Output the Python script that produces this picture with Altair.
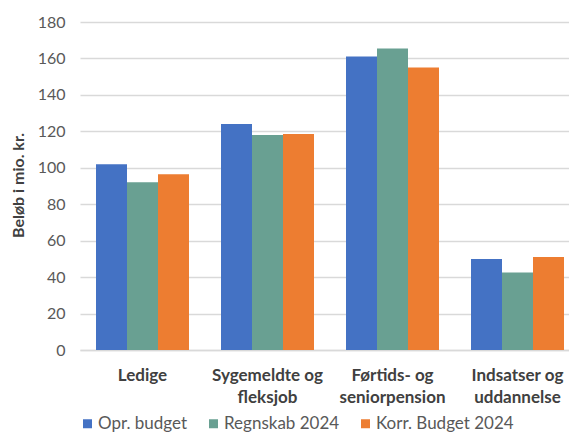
import altair as alt
import pandas as pd

categories = ["Ledige", "Sygemeldte og fleksjob", "Førtids- og seniorpension", "Indsatser og uddannelse"]
series = ["Opr. budget", "Regnskab 2024", "Korr. Budget 2024"]
opr_budget = [102, 124, 161, 50]
regnskab_2024 = [92, 118, 165.5, 42.5]
korr_budget_2024 = [96.5, 118.5, 155, 51]
colors = ["#4472C4", "#69A092", "#ED7D31"]
y_ticks = [0, 20, 40, 60, 80, 100, 120, 140, 160, 180]

rows = []
for s, vals in zip(series, [opr_budget, regnskab_2024, korr_budget_2024]):
    for c, v in zip(categories, vals):
        rows.append({"Kategori": c, "Serie": s, "Beløb": v})
df = pd.DataFrame(rows)

FONT = "Lato"

chart = alt.Chart(df).mark_bar().encode(
    x=alt.X("Kategori:N", sort=categories,
            scale=alt.Scale(paddingInner=0.256, paddingOuter=0.128, range=[0, 500]),
            axis=alt.Axis(title=None, labelAngle=0, labelFont=FONT, labelFontSize=17,
                          labelFontWeight="bold", labelColor="#404040", labelPadding=17,
                          labelLineHeight=22, ticks=False, domainColor="#D9D9D9",
                          domainWidth=1.5,
                          labelExpr="split(replace(datum.label, ' og ', ' og|'), '|')")),
    xOffset=alt.XOffset("Serie:N", sort=series),
    y=alt.Y("Beløb:Q", scale=alt.Scale(domain=[0, 180], nice=False),
            axis=alt.Axis(title="Beløb i mio. kr.", values=y_ticks, labelFont=FONT,
                          labelFontSize=16, labelColor="#595959", labelPadding=15,
                          ticks=False, domain=False, gridColor="#D9D9D9", gridWidth=1.5,
                          titleFont=FONT, titleFontSize=16, titleFontWeight="bold",
                          titleColor="#404040", titleAngle=-90, titleX=-62, titleY=163,
                          titleAlign="center", titleBaseline="middle")),
    color=alt.Color("Serie:N", sort=series,
                    scale=alt.Scale(domain=series, range=colors),
                    legend=alt.Legend(title=None, orient="none", legendX=-1, legendY=393,
                                      direction="horizontal", columns=3,
                                      symbolType="square", symbolSize=81,
                                      symbolStrokeWidth=0, labelFont=FONT,
                                      labelFontSize=17, labelColor="#595959",
                                      labelOffset=2, columnPadding=17)),
).properties(
    width=489, height=328,
    autosize=alt.AutoSizeParams(type="none"),
    padding={"left": 72, "top": 14, "right": 0, "bottom": 86},
).configure_view(stroke=None)

chart.save("out.html", embed_options={"renderer": "svg", "actions": False})
